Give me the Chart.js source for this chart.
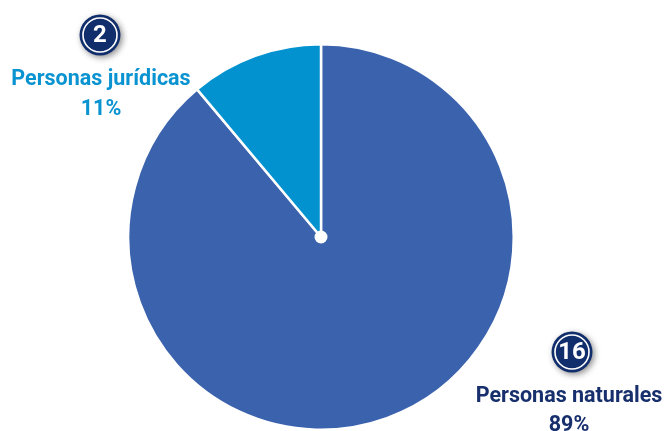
<!DOCTYPE html>
<html>
<head>
<meta charset="utf-8">
<script src="https://cdn.jsdelivr.net/npm/chart.js@4"></script>
<style>
html,body{margin:0;padding:0;background:#fff;}
#wrap{width:668px;height:431px;position:relative;}
</style>
</head>
<body>
<div id="wrap"><canvas id="c" width="668" height="431"></canvas></div>
<script>
const categories = ["Personas naturales", "Personas jurídicas"];
const counts = [16, 2];
const percentLabels = ["89%", "11%"];
const sliceColors = ["#3b63ad", "#0392d0"];
const textColors = ["#172f6c", "#0a93d1"];

const labelPlugin = {
  id: 'labels',
  afterDraw(chart) {
    const ctx = chart.ctx;
    const arc = chart.getDatasetMeta(0).data[0];
    ctx.save();
    ctx.fillStyle = '#ffffff';
    ctx.beginPath();
    ctx.arc(arc.x, arc.y, 6.5, 0, Math.PI * 2);
    ctx.fill();
    ctx.restore();

    const spots = [
      {bx: 572, by: 352, tx: 569, ty: 397, py: 426},
      {bx: 100, by: 35, tx: 101, ty: 80, py: 110}
    ];
    spots.forEach((s, i) => {
      ctx.save();
      ctx.shadowColor = 'rgba(0,0,0,0.45)';
      ctx.shadowBlur = 6;
      ctx.shadowOffsetX = 2;
      ctx.shadowOffsetY = 2;
      ctx.fillStyle = '#102d6c';
      ctx.beginPath();
      ctx.arc(s.bx, s.by, 20.5, 0, Math.PI * 2);
      ctx.fill();
      ctx.restore();
      ctx.save();
      ctx.strokeStyle = '#ffffff';
      ctx.lineWidth = 1.6;
      ctx.beginPath();
      ctx.arc(s.bx, s.by, 17, 0, Math.PI * 2);
      ctx.stroke();
      ctx.fillStyle = '#ffffff';
      ctx.font = 'bold 24px Roboto';
      ctx.textAlign = 'center';
      ctx.textBaseline = 'middle';
      ctx.fillText(String(counts[i]), s.bx, s.by + 1);
      ctx.fillStyle = textColors[i];
      ctx.font = 'bold 21.5px Roboto';
      ctx.fillText(categories[i], s.tx, s.ty);
      ctx.fillText(percentLabels[i], s.tx, s.py);
      ctx.restore();
    });
  }
};

new Chart(document.getElementById('c'), {
  type: 'pie',
  data: {
    labels: categories,
    datasets: [{
      data: counts,
      backgroundColor: sliceColors,
      borderColor: '#ffffff',
      borderWidth: 2.5
    }]
  },
  options: {
    responsive: false,
    animation: false,
    rotation: 0,
    layout: { padding: { left: 127, right: 153, top: 43, bottom: 0 } },
    plugins: { legend: { display: false }, tooltip: { enabled: false } }
  },
  plugins: [labelPlugin]
});
</script>
</body>
</html>
